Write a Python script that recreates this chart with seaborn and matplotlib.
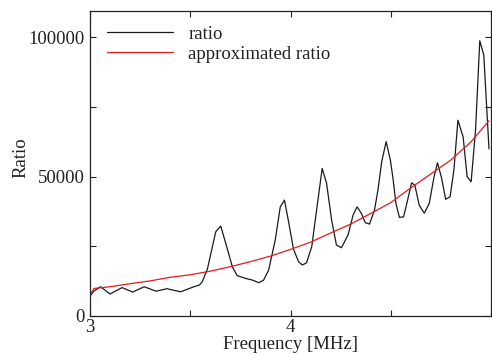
import matplotlib
matplotlib.use("Agg")
import matplotlib.pyplot as plt
import seaborn as sns

# measured ratio (black)
freq = [3.00, 3.02, 3.053, 3.10, 3.16, 3.213, 3.27, 3.33, 3.383, 3.452,
        3.518, 3.545, 3.56, 3.586, 3.627, 3.652, 3.677, 3.71, 3.734, 3.776,
        3.81, 3.842, 3.866, 3.891, 3.924, 3.949, 3.97, 3.99, 4.015, 4.04,
        4.059, 4.08, 4.106, 4.139, 4.158, 4.18, 4.205, 4.229, 4.254, 4.287,
        4.312, 4.332, 4.353, 4.373, 4.394, 4.419, 4.436, 4.455, 4.477, 4.498,
        4.51, 4.526, 4.543, 4.564, 4.584, 4.604, 4.62, 4.642, 4.667, 4.692,
        4.716, 4.733, 4.752, 4.774, 4.796, 4.815, 4.835, 4.861, 4.881, 4.901,
        4.923, 4.944, 4.964, 4.99]
ratio = [7200, 9000, 10500, 7900, 10200, 8600, 10500, 8900, 9800, 8700,
         10500, 11100, 12300, 17000, 30200, 32300, 26100, 17700, 14500, 13500,
         12900, 11950, 12900, 16500, 27300, 39200, 41600, 34000, 24000, 19500,
         18300, 19100, 24900, 42800, 53000, 47600, 34500, 25500, 24500, 29100,
         36200, 39200, 36900, 33500, 33000, 38000, 45200, 55400, 62600, 56000,
         50000, 40400, 35400, 35600, 41600, 47800, 47000, 39800, 36900, 40400,
         50000, 55000, 50000, 41900, 42800, 52400, 70300, 64300, 50000, 48200,
         66800, 98800, 93700, 60000]

# approximated ratio (red)
freq_fit = [3.00, 3.02, 3.1, 3.2, 3.3, 3.4, 3.5, 3.6, 3.7, 3.8, 3.9, 4.0,
            4.1, 4.2, 4.3, 4.4, 4.5, 4.6, 4.7, 4.8, 4.9, 4.99]
ratio_fit = [7500, 9900, 10500, 11600, 12600, 13900, 14800, 16100, 17700,
             19500, 21500, 23900, 26500, 29800, 33000, 36800, 40700, 46000,
             51000, 56000, 62500, 70100]

sns.set_style("ticks")
plt.rcParams['font.family'] = ['Liberation Serif', 'DejaVu Serif']

fig = plt.figure(figsize=(4.92, 3.54), dpi=100)
ax = fig.add_axes([90 / 492, 1 - 316 / 354, 401 / 492, 305 / 354])

sns.lineplot(x=freq, y=ratio, color='#1a1a1a', lw=0.9, label='ratio', ax=ax, sort=False)
sns.lineplot(x=freq_fit, y=ratio_fit, color='#e8191d', lw=0.9, label='approximated ratio', ax=ax, sort=False)

ax.set_xlim(3, 5)
ax.set_ylim(0, 109500)
ax.set_xticks([3, 4, 5])
ax.set_xticklabels(['3', '4', ''])
ax.set_xticks([3.5, 4.5], minor=True)
ax.set_yticks([0, 50000, 100000])
ax.set_yticklabels(['0', '50000', '100000'])
ax.set_yticks([25000, 75000], minor=True)
ax.tick_params(which='both', direction='in', top=True, right=True, length=4, width=0.8,
               labelsize=13.5, color='#222222', labelcolor='#222222')
ax.tick_params(axis='x', pad=2)
ax.tick_params(axis='y', pad=4)
for s in ax.spines.values():
    s.set_linewidth(0.9)
    s.set_color('#222222')

ax.set_xlabel('Frequency [MHz]', fontsize=13.5, color='#222222', labelpad=0)
ax.set_ylabel('Ratio', fontsize=13.5, color='#222222')
ax.yaxis.set_label_coords(-0.152, 0.52)

ax.legend(loc='upper left', frameon=False, fontsize=13.5, handlelength=3.5,
          handletextpad=0.85, labelspacing=0.15, borderaxespad=0.5,
          bbox_to_anchor=(0.0, 1.007), labelcolor='#222222')

fig.savefig('out.png', dpi=100)
